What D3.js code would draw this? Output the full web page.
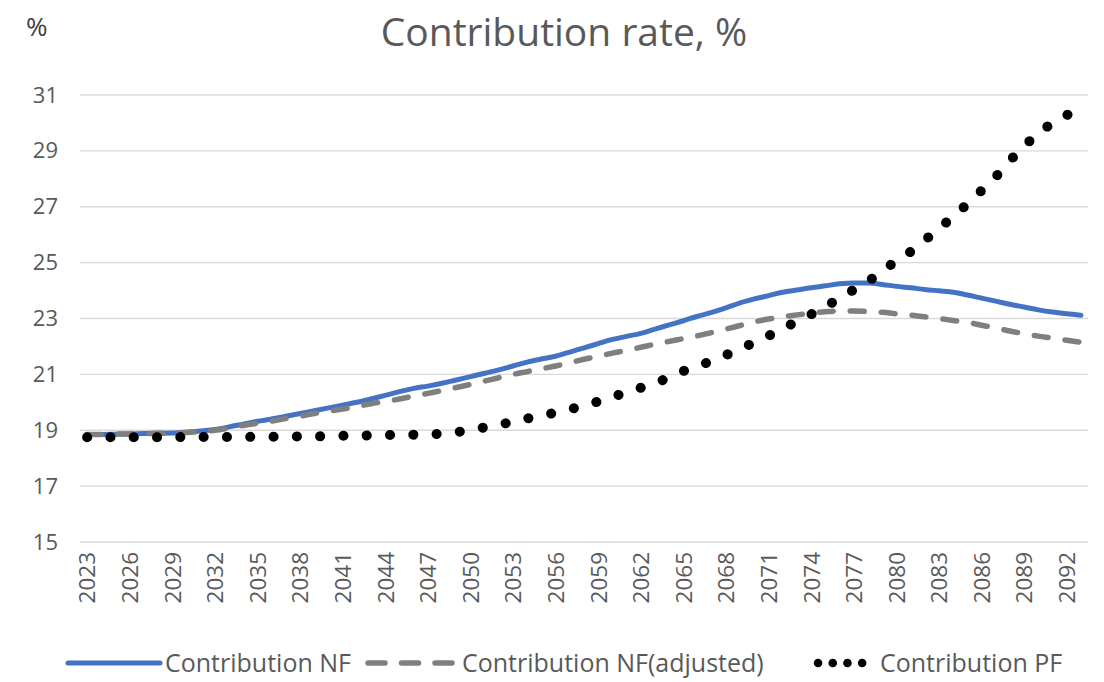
<!DOCTYPE html>
<html>
<head>
<meta charset="utf-8">
<script src="https://cdn.jsdelivr.net/npm/d3@7"></script>
<style>
  html, body { margin: 0; padding: 0; background: #ffffff; }
  svg { display: block; font-family: "Open Sans", "Noto Sans", sans-serif; }
</style>
</head>
<body>
<svg id="chart" width="1104" height="682"></svg>
<script>
// Projection years 2023–2093
const years = d3.range(2023, 2094);

// Contribution rate, % — notional funding
const contributionNF = [
  18.85, 18.85, 18.86, 18.87, 18.88, 18.89, 18.90, 18.93, 18.97, 19.03,
  19.12, 19.22, 19.32, 19.40, 19.50, 19.60, 19.70, 19.80, 19.90, 20.00,
  20.12, 20.25, 20.38, 20.50, 20.58, 20.68, 20.80, 20.92, 21.04, 21.16,
  21.30, 21.44, 21.55, 21.65, 21.80, 21.95, 22.10, 22.25, 22.36, 22.47,
  22.62, 22.77, 22.92, 23.08, 23.22, 23.38, 23.56, 23.70, 23.82, 23.94,
  24.02, 24.10, 24.17, 24.24, 24.27, 24.27, 24.22, 24.15, 24.10, 24.04,
  23.99, 23.94, 23.84, 23.73, 23.62, 23.51, 23.41, 23.31, 23.23, 23.17,
  23.12
];

// Contribution rate, % — notional funding (adjusted)
const contributionNFAdj = [
  18.85, 18.85, 18.86, 18.87, 18.88, 18.89, 18.90, 18.92, 18.95, 19.00,
  19.08, 19.17, 19.25, 19.33, 19.42, 19.50, 19.60, 19.68, 19.76, 19.85,
  19.95, 20.03, 20.12, 20.22, 20.32, 20.42, 20.53, 20.64, 20.76, 20.88,
  21.00, 21.10, 21.20, 21.30, 21.42, 21.54, 21.65, 21.76, 21.86, 21.97,
  22.08, 22.18, 22.28, 22.38, 22.50, 22.62, 22.75, 22.88, 22.98, 23.06,
  23.13, 23.19, 23.24, 23.27, 23.27, 23.25, 23.22, 23.17, 23.12, 23.06,
  23.00, 22.93, 22.86, 22.76, 22.66, 22.55, 22.46, 22.37, 22.30, 22.22,
  22.15
];

// Contribution rate, % — pre-funding
const contributionPF = [
  18.75, 18.75, 18.75, 18.75, 18.75, 18.75, 18.75, 18.76, 18.76, 18.76,
  18.76, 18.76, 18.77, 18.77, 18.77, 18.78, 18.78, 18.79, 18.80, 18.80,
  18.82, 18.83, 18.83, 18.84, 18.85, 18.88, 18.93, 19.02, 19.10, 19.20,
  19.30, 19.42, 19.53, 19.63, 19.75, 19.88, 20.03, 20.20, 20.35, 20.52,
  20.70, 20.88, 21.12, 21.30, 21.48, 21.69, 21.92, 22.14, 22.38, 22.64,
  22.90, 23.15, 23.43, 23.72, 24.03, 24.33, 24.68, 25.07, 25.39, 25.80,
  26.22, 26.65, 27.10, 27.58, 28.07, 28.65, 29.15, 29.65, 29.98, 30.28,
  30.50
];

const yTicks = [15, 17, 19, 21, 23, 25, 27, 29, 31];
const xTickYears = years.filter((y, i) => i % 3 === 0);

const seriesNames = ["Contribution NF", "Contribution NF(adjusted)", "Contribution PF"];

const svg = d3.select("#chart");

const plot = { left: 80, right: 1088, top: 95, bottom: 542 };

const x = d3.scalePoint()
  .domain(years)
  .range([plot.left, plot.right])
  .padding(0.5);

const y = d3.scaleLinear()
  .domain([15, 31])
  .range([plot.bottom, plot.top]);

const textGrey = "#595959";

// Horizontal gridlines
svg.append("g")
  .selectAll("line")
  .data(yTicks)
  .join("line")
  .attr("x1", plot.left)
  .attr("x2", plot.right)
  .attr("y1", d => y(d))
  .attr("y2", d => y(d))
  .attr("stroke", "#d9d9d9")
  .attr("stroke-width", 1.3);

// Y axis labels
const yAxis = d3.axisLeft(y).tickValues(yTicks).tickSize(0).tickPadding(0);
const gy = svg.append("g")
  .attr("transform", `translate(${plot.left - 22},0)`)
  .call(yAxis);
gy.select(".domain").remove();
gy.selectAll("text")
  .attr("fill", textGrey)
  .style("font-size", "22px")
  .style("font-family", "'Open Sans', sans-serif");

// X axis labels (rotated)
const xAxis = d3.axisBottom(x).tickValues(xTickYears).tickSize(0).tickPadding(0);
const gx = svg.append("g")
  .attr("transform", `translate(0,${plot.bottom + 10})`)
  .call(xAxis);
gx.select(".domain").remove();
gx.selectAll("text")
  .attr("fill", textGrey)
  .style("font-size", "22.5px")
  .style("font-family", "'Open Sans', sans-serif")
  .attr("text-anchor", "end")
  .attr("transform", "rotate(-90)")
  .attr("x", 0)
  .attr("y", 0)
  .attr("dy", "0.35em");

// Series lines
const line = d3.line()
  .x((d, i) => x(years[i]))
  .y(d => y(d))
  .curve(d3.curveMonotoneX);

const styles = [
  { data: contributionNF, stroke: "#4472c4", width: 5, dash: null, cap: "round" },
  { data: contributionNFAdj, stroke: "#7f7f7f", width: 5.5, dash: "14,17", cap: "round" },
  { data: contributionPF, stroke: "#000000", width: 10, dash: "0.1,23.2", cap: "round" }
];

styles.forEach(s => {
  svg.append("path")
    .datum(s.data)
    .attr("fill", "none")
    .attr("stroke", s.stroke)
    .attr("stroke-width", s.width)
    .attr("stroke-linecap", s.cap)
    .attr("stroke-linejoin", "round")
    .attr("stroke-dasharray", s.dash)
    .attr("d", line);
});

// Title and unit label
svg.append("text")
  .attr("x", 564)
  .attr("y", 46)
  .attr("text-anchor", "middle")
  .attr("fill", textGrey)
  .style("font-size", "39px")
  .text("Contribution rate, %");

svg.append("text")
  .attr("x", 26)
  .attr("y", 36)
  .attr("fill", "#404040")
  .style("font-size", "26px")
  .text("%");

// Legend
const legendY = 663;
const legendItems = [
  { x1: 68, x2: 160, tx: 165, style: styles[0], label: seriesNames[0], w: 5, dash: null },
  { x1: 368, x2: 452, tx: 462, style: styles[1], label: seriesNames[1], w: 5.5, dash: "17,16.5" },
  { x1: 818, x2: 862.5, tx: 880, style: styles[2], label: seriesNames[2], w: 8.5, dash: "0.1,14.6" }
];
const lg = svg.append("g");
legendItems.forEach(item => {
  const s = item.style;
  lg.append("line")
    .attr("x1", item.x1)
    .attr("x2", item.x2)
    .attr("y1", legendY)
    .attr("y2", legendY)
    .attr("stroke", s.stroke)
    .attr("stroke-width", item.w)
    .attr("stroke-linecap", s.cap)
    .attr("stroke-dasharray", item.dash);
  lg.append("text")
    .attr("x", item.tx)
    .attr("y", legendY + 9)
    .attr("fill", textGrey)
    .style("font-size", "25px")
    .text(item.label);
});
</script>
</body>
</html>
